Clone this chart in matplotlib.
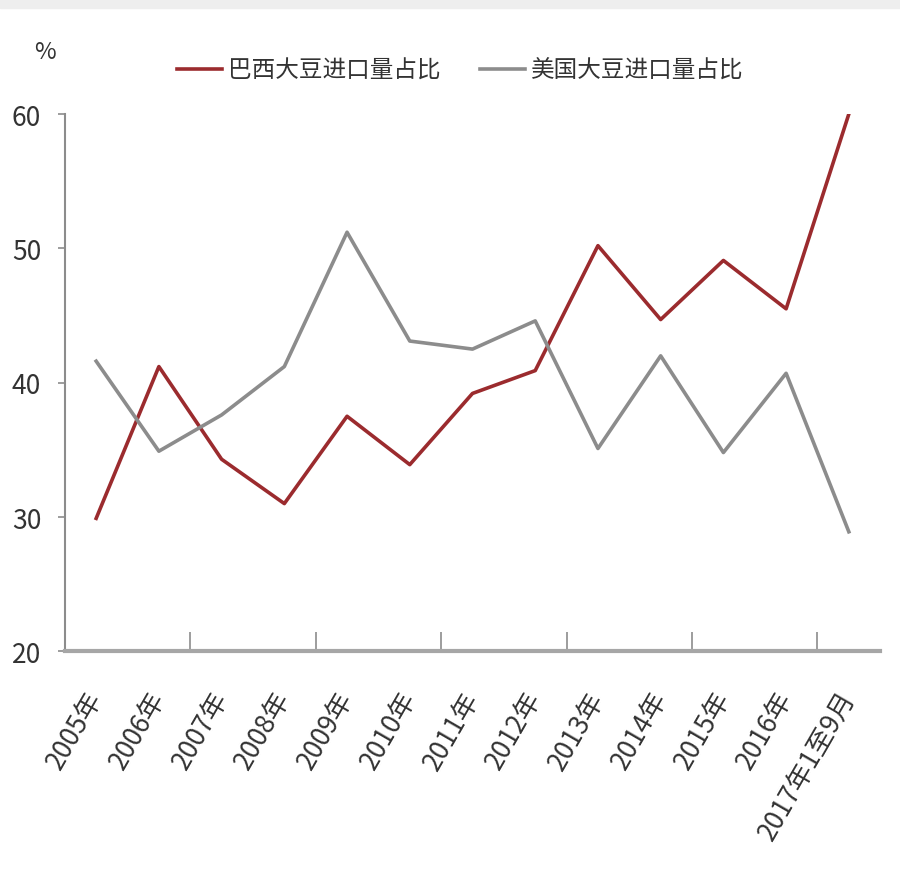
import numpy as np
import matplotlib
matplotlib.use('Agg')
import matplotlib.pyplot as plt

plt.rcParams['font.family'] = ['Noto Sans CJK SC', 'DejaVu Sans']

# 数据
years = ['2005年', '2006年', '2007年', '2008年', '2009年', '2010年', '2011年',
         '2012年', '2013年', '2014年', '2015年', '2016年', '2017年1至9月']
brazil = [29.9, 41.2, 34.3, 31.0, 37.5, 33.9, 39.2, 40.9, 50.2, 44.7, 49.1, 45.5, 60.0]
usa = [41.6, 34.9, 37.6, 41.2, 51.2, 43.1, 42.5, 44.6, 35.1, 42.0, 34.8, 40.7, 28.9]

c_red = '#9b2b2e'
c_gray = '#8c8c8c'
txt = '#333333'

fig = plt.figure(figsize=(9, 8.78), dpi=100)
ax = fig.add_axes([0.072, 0.257, 0.906, 0.612])

x = np.arange(len(years))
ax.plot(x, brazil, color=c_red, lw=2.6, label='巴西大豆进口量占比')
ax.plot(x, usa, color=c_gray, lw=2.6, label='美国大豆进口量占比')

ax.set_xlim(-0.5, len(years) - 0.5)
ax.set_ylim(20, 60)
ax.set_yticks([20, 30, 40, 50, 60])
ax.tick_params(axis='y', direction='out', length=5, width=1.2, color=c_gray,
               labelsize=19, labelcolor=txt, pad=12)

# x 轴刻度线（每两类一根）和类别标签
ax.set_xticks(np.arange(1.5, len(years) - 1, 2))
ax.set_xticklabels([])
ax.tick_params(axis='x', direction='in', length=14, width=1.2, color=c_gray)
for i, lab in enumerate(years):
    ax.text(i - 0.18, 17.4, lab, rotation=60, ha='right', va='top',
            rotation_mode='anchor', fontsize=19, color=txt, clip_on=False)

for s in ['top', 'right']:
    ax.spines[s].set_visible(False)
ax.spines['left'].set_color(c_gray)
ax.spines['left'].set_linewidth(1.5)
ax.spines['bottom'].set_color('#a6a6a6')
ax.spines['bottom'].set_linewidth(3)

fig.text(0.05, 0.94, '%', fontsize=17, color=txt, ha='center', va='center')

leg = ax.legend(loc='lower center', bbox_to_anchor=(0.485, 1.02), ncol=2,
                frameon=False, fontsize=17, handlelength=1.9, handletextpad=0.25,
                columnspacing=1.7)
for t in leg.get_texts():
    t.set_color(txt)

# 顶部浅灰条
fig.patches.append(plt.Rectangle((0, 0.99), 1, 0.01, transform=fig.transFigure,
                                 color='#eeeeee', zorder=0))

fig.savefig('out.png', dpi=100)
